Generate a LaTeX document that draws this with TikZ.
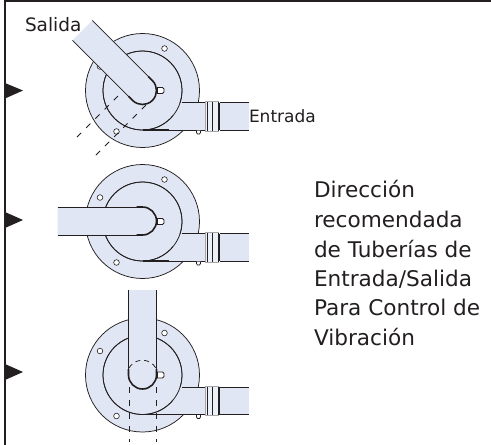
\documentclass[tikz,border=0pt]{standalone}
\usepackage{fontspec}
\setmainfont{DejaVu Sans}
\definecolor{pumpfill}{HTML}{E0E6F3}
\definecolor{ink}{HTML}{231F20}
\newcommand{\pumpbase}[2]{%
\begin{scope}[shift={(#1,#2)}]
  \draw[pumpline,fill=pumpfill] (0,0) circle[radius=57];
  \fill[pumpfill] (0,39.5) rectangle (106.5,12);
  \draw[pumpline,fill=pumpfill] (0,0) circle[radius=39.5];
  \fill[pumpfill] (30,12) rectangle (63,39.5);
  \draw[pumpline] (0,0) circle[radius=39.5];
  \draw[pumpline] (39,12) -- (63,12);
  \draw[pumpline] (0,39.5) -- (63,39.5);
  \draw[line width=1.3pt,ink] (0,39.5) -- (26,39.5);
  \fill[pumpfill] (64,12) rectangle (106.5,39.5);
  \draw[pumpline,draw=gray!70,fill=pumpfill!60!white] (63,11) rectangle (75.5,40.5);
  \draw[pumpline] (64.5,11.5) -- (64.5,40);
  \draw[pumpline] (69.5,11.5) -- (69.5,40);
  \draw[pumpline] (75.5,11.5) -- (75.5,40);
  \draw[pumpline] (77,12) -- (106.5,12);
  \draw[pumpline] (77,39.5) -- (106.5,39.5);
  \draw[pumpline] (77,12) -- (77,39.5);
  \draw[line width=0.8pt,ink,fill=white] (54,40) -- (54,42) -- (55,43.5) -- (57,43.5) -- (58,42) -- (58,40);
  \draw[line width=0.6pt,ink,fill=white] (22,-42) circle[radius=2.8];
  \draw[line width=0.6pt,ink,fill=white] (-42.5,-24) circle[radius=2.8];
  \draw[line width=0.6pt,ink,fill=white] (-26,41) circle[radius=2.8];
  \draw[line width=0.8pt,ink,fill=white] (15,-3) -- (20,-3) -- (21.5,-1.5) -- (21.5,1.5) -- (20,3) -- (15,3) -- cycle;
\end{scope}}
\newcommand{\pumppipe}[3]{%
\begin{scope}[shift={(#1,#2)},rotate=#3,x=1pt,y=1pt]
  \fill[pumpfill] (85,14) -- (0,14) arc[start angle=90,end angle=270,radius=14] -- (85,-14) -- cycle;
  \draw[pumpline] (85,14) -- (0,14);
  \draw[pumpline] (85,-14) -- (0,-14);
  \draw[line width=1.6pt,ink] (6,14) -- (0,14) arc[start angle=90,end angle=270,radius=14] -- (6,-14);
\end{scope}}
\tikzset{
  pumpline/.style={line width=0.75pt,ink},
  hidden/.style={line width=0.75pt,ink,dash pattern=on 6pt off 7pt},
  marker/.style={fill=ink,draw=none},
  lbl/.style={anchor=base west,inner sep=0pt,outer sep=0pt,text=ink,font=\fontsize{21.6}{21.6}\selectfont},
  small lbl/.style={lbl,font=\fontsize{18.5}{18.5}\selectfont}
}
\begin{document}
\begin{tikzpicture}[x=1pt,y=-1pt]
\useasboundingbox (0,0) rectangle (491,445);
\fill[white] (0,0) rectangle (491,445);
\draw[line width=1.5pt,ink] (5,445) -- (5,1) -- (491,1);
\fill[marker] (5,83) -- (23,90.5) -- (5,98.5) -- cycle;
\fill[marker] (5,212) -- (23,220) -- (5,228) -- cycle;
\fill[marker] (5,364) -- (23,372) -- (5,380) -- cycle;
\pumpbase{142.5}{90.5}
\pumppipe{142.5}{90.5}{135}
\draw[hidden] (118,96) -- (74,140);
\draw[hidden] (146,105) -- (92,159);
\pumpbase{142.5}{221.5}
\pumppipe{142.5}{221}{180}
\pumpbase{142.5}{375}
\pumppipe{142.5}{375}{90}
\draw[line width=0.75pt,ink,dash pattern=on 5pt off 4pt] (129,368) arc[start angle=-150,end angle=-30,radius=15.5];
\draw[hidden] (129,387) -- (129,442);
\draw[hidden] (156,387) -- (156,442);
\node[small lbl] (salida) at (25,31) {Salida};
\node[small lbl,font=\fontsize{17}{17}\selectfont] (entrada) at (249,122.5) {Entrada};
\node[lbl] (t1) at (314,197) {Dirección};
\node[lbl] (t2) at (314,227.5) {recomendada};
\node[lbl] (t3) at (314,257) {de Tuberías de};
\node[lbl] (t4) at (314,286) {Entrada/Salida};
\node[lbl] (t5) at (314,315) {Para Control de};
\node[lbl] (t6) at (314,345) {Vibración};
\end{tikzpicture}
\end{document}
